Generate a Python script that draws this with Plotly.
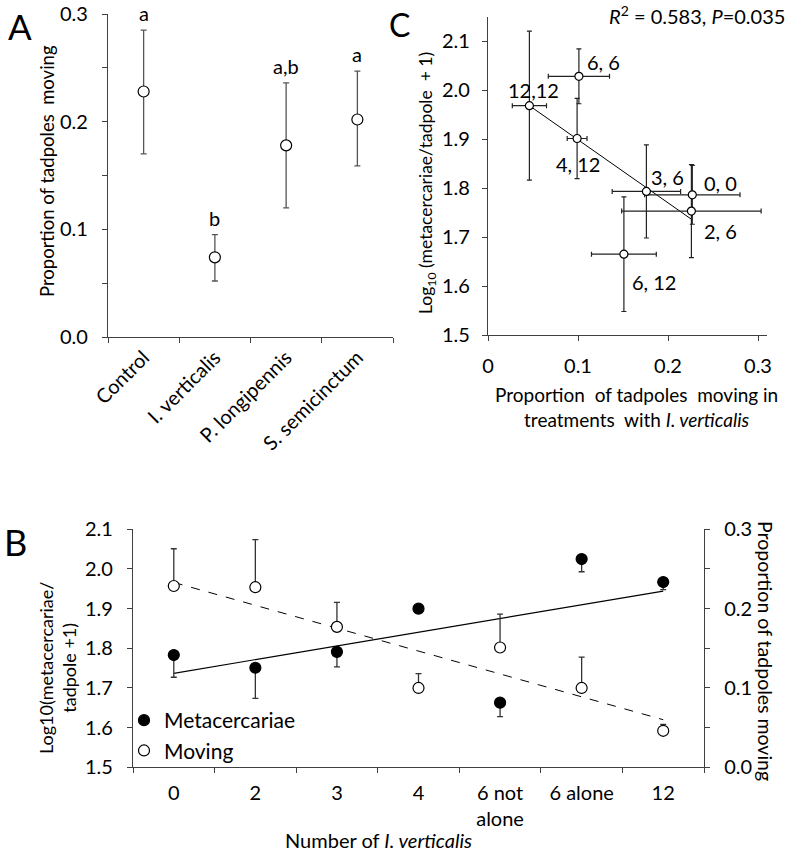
import plotly.graph_objects as go

# ---- panel A: proportion of tadpoles moving per predator treatment
a_groups = ["Control", "I. verticalis", "P. longipennis", "S. semicinctum"]
a_moving = [0.228, 0.074, 0.178, 0.202]
a_err_up = [0.057, 0.021, 0.058, 0.045]
a_err_down = [0.058, 0.022, 0.058, 0.043]
a_letters = ["a", "b", "a,b", "a"]

# ---- panel C: metacercariae vs proportion moving
c_labels = ["12,12", "6, 6", "4, 12", "3, 6", "0, 0", "2, 6", "6, 12"]
c_moving = [0.046, 0.101, 0.099, 0.176, 0.227, 0.226, 0.151]
c_moving_err = [0.019, 0.034, 0.011, 0.038, 0.053, 0.0775, 0.036]
c_meta = [1.968, 2.028, 1.901, 1.793, 1.786, 1.753, 1.665]
c_meta_err = [0.152, 0.056, 0.082, 0.095, 0.060, 0.095, 0.117]
c_fit_x = [0.046, 0.227]
c_fit_y = [1.968, 1.735]

# ---- panel B: number of I. verticalis
b_groups = ["0", "2", "3", "4", "6 not<br>alone", "6 alone", "12"]
b_meta = [1.783, 1.751, 1.791, 1.900, 1.663, 2.025, 1.967]
b_meta_err = [0.056, 0.077, 0.038, 0.0, 0.035, 0.032, 0.019]
b_moving = [0.2285, 0.227, 0.177, 0.100, 0.151, 0.100, 0.046]
b_moving_err = [0.047, 0.060, 0.031, 0.018, 0.042, 0.039, 0.008]
b_fit_x = ["0", "12"]
b_meta_fit = [1.737, 1.944]
b_moving_fit = [0.233, 0.060]

W, H = 789, 854
FONT = "Lato, Carlito, Calibri, sans-serif"
AX = "#404040"

# pixel offsets for the point labels in C
c_label_shift = [(4, 16), (25, 14), (1, -25), (21, 14), (28, 12), (29, -20), (30, -28)]


def px(x):
    return x / W


def py(y):
    return 1 - y / H


fig = go.Figure()

open_marker = dict(symbol="circle", color="white", line=dict(color="black", width=1.2))
filled_marker = dict(symbol="circle", color="black", line=dict(color="black", width=1.2))

# A
fig.add_trace(go.Scatter(
    x=a_groups, y=a_moving, mode="markers", xaxis="x", yaxis="y",
    marker=dict(size=11, **open_marker), showlegend=False,
    error_y=dict(type="data", symmetric=False, array=a_err_up, arrayminus=a_err_down,
                 color="#555555", thickness=1.3, width=3),
))

# C
fig.add_trace(go.Scatter(
    x=c_fit_x, y=c_fit_y, mode="lines", xaxis="x2", yaxis="y2",
    line=dict(color="black", width=1), showlegend=False,
))
fig.add_trace(go.Scatter(
    x=c_moving, y=c_meta, mode="markers", xaxis="x2", yaxis="y2",
    marker=dict(size=8, **open_marker), showlegend=False,
    error_x=dict(type="data", array=c_moving_err, color="#222222", thickness=1.2, width=2.5),
    error_y=dict(type="data", array=c_meta_err, color="#222222", thickness=1.2, width=2.5),
))

# B
fig.add_trace(go.Scatter(
    x=b_fit_x, y=b_meta_fit, mode="lines", xaxis="x3", yaxis="y3",
    line=dict(color="black", width=1.2), showlegend=False,
))
fig.add_trace(go.Scatter(
    x=b_fit_x, y=b_moving_fit, mode="lines", xaxis="x3", yaxis="y4",
    line=dict(color="black", width=1, dash="dash"), showlegend=False,
))
fig.add_trace(go.Scatter(
    x=b_groups, y=b_meta, mode="markers", xaxis="x3", yaxis="y3", name="Metacercariae",
    marker=dict(size=11, **filled_marker),
    error_y=dict(type="data", symmetric=False, array=[0] * len(b_meta), arrayminus=b_meta_err,
                 color="#333333", thickness=1.3, width=3),
))
fig.add_trace(go.Scatter(
    x=b_groups, y=b_moving, mode="markers", xaxis="x3", yaxis="y4", name="Moving",
    marker=dict(size=11, **open_marker),
    error_y=dict(type="data", symmetric=False, array=b_moving_err, arrayminus=[0] * len(b_moving),
                 color="#333333", thickness=1.3, width=3),
))

axis_common = dict(showline=True, linecolor=AX, linewidth=1.3, ticks="outside", ticklen=5,
                   tickcolor=AX, tickwidth=1.3, showgrid=False, zeroline=False,
                   automargin=False, tickfont=dict(size=20, color="black"))
minor_ticks = dict(dtick=0.05, ticks="outside", ticklen=5, tickcolor=AX, tickwidth=1.3)

fig.update_layout(
    width=W, height=H, margin=dict(l=0, r=0, t=0, b=0),
    paper_bgcolor="white", plot_bgcolor="white",
    font=dict(family=FONT, color="black", size=18),
    xaxis=dict(domain=[px(108), px(393)], anchor="y", type="category", range=[-0.5, 3.5],
               categoryorder="array", categoryarray=a_groups,
               tickson="boundaries", tickangle=-45, **axis_common),
    yaxis=dict(domain=[py(337), py(14)], anchor="x", range=[0, 0.3], dtick=0.1, tickformat=".1f",
               ticklabelstandoff=10, minor=minor_ticks, **axis_common),
    xaxis2=dict(domain=[px(488), px(767)], anchor="y2", range=[0, 0.31], dtick=0.1,
                ticklabelstandoff=8, **axis_common),
    yaxis2=dict(domain=[py(335), py(17)], anchor="x2", range=[1.5, 2.149], dtick=0.1,
                tickformat=".1f", ticklabelstandoff=8, **axis_common),
    xaxis3=dict(domain=[px(133), px(704)], anchor="y3", type="category", range=[-0.5, 6.5],
                categoryorder="array", categoryarray=b_groups,
                tickson="boundaries", ticklabelstandoff=8, **axis_common),
    yaxis3=dict(domain=[py(767.3), py(529.3)], anchor="x3", range=[1.5, 2.1], dtick=0.1,
                tickformat=".1f", ticklabelstandoff=10, **axis_common),
    yaxis4=dict(overlaying="y3", side="right", anchor="x3", range=[0, 0.3], dtick=0.1,
                tickformat=".1f", ticklabelstandoff=10, minor=minor_ticks, **axis_common),
    legend=dict(x=px(124), y=py(700), xanchor="left", yanchor="top", bgcolor="rgba(0,0,0,0)",
                font=dict(size=21), itemwidth=30, tracegroupgap=0),
)

ann = []
# significance letters in A
for g, v, e, t in zip(a_groups, a_moving, a_err_up, a_letters):
    ann.append(dict(x=g, y=v + e, xref="x", yref="y", text=t, showarrow=False,
                    yanchor="bottom", yshift=3, font=dict(size=20)))
# point labels in C
for x, y, t, (dx, dy) in zip(c_moving, c_meta, c_labels, c_label_shift):
    ann.append(dict(x=x, y=y, xref="x2", yref="y2", text=t, showarrow=False,
                    xshift=dx, yshift=dy, font=dict(size=20)))

titles = [
    ("A", 20, 26, 0, 35),
    ("C", 399, 24, 0, 32),
    ("B", 15, 542, 0, 36),
    ("Proportion of tadpoles  moving", 47, 171, -90, 18.5),
    ("Log<sub>10</sub> (metacercariae/tadpole  + 1)", 427, 183, -90, 17.5),
    ("Proportion  of tadpoles  moving in<br>treatments  with <i>I. verticalis</i>", 636, 407, 0, 19),
    ("Log10(metacercariae/<br>tadpole +1)", 57, 668, -90, 18),
    ("Proportion of tadpoles moving", 766, 651, 90, 19.5),
    ("Number of <i>I. verticalis</i>", 378, 840, 0, 20),
]
for t, x, y, ang, sz in titles:
    ann.append(dict(x=px(x), y=py(y), xref="paper", yref="paper", text=t, showarrow=False,
                    textangle=ang, xanchor="center", yanchor="middle", font=dict(size=sz)))

ann.append(dict(x=px(787), y=py(15), xref="paper", yref="paper",
                text="<i>R</i><sup>2</sup> = 0.583, <i>P</i>=0.035", showarrow=False,
                xanchor="right", yanchor="middle", font=dict(size=20)))

fig.update_layout(annotations=ann)

# drop the default page margin so the figure sits at the window's corner
fig.write_html("out.html", config={"displayModeBar": False},
               post_script="document.body.style.margin='0px';")
